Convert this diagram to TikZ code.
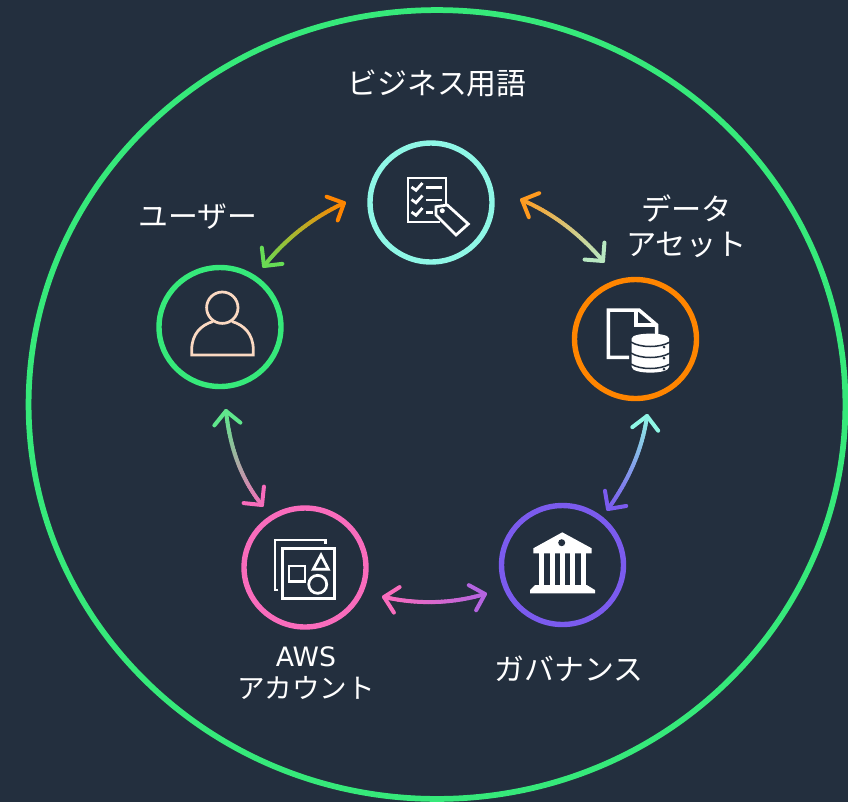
\documentclass[tikz,border=0pt]{standalone}
\usepackage{fontspec}
\setmainfont{Noto Sans CJK JP}
\newfontfamily\latinfont{DejaVu Sans}
\usepackage{xcolor}
\usetikzlibrary{calc,shapes.geometric}
\definecolor{bgcolor}{HTML}{232F3E}
\definecolor{ringgreen}{HTML}{36E97A}
\definecolor{ringcyan}{HTML}{8FF7E6}
\definecolor{ringorange}{HTML}{FF8500}
\definecolor{ringpurple}{HTML}{7B5BEE}
\definecolor{ringpink}{HTML}{F96CBC}
\definecolor{peach}{HTML}{FBD9C2}
\definecolor{tipgreen}{HTML}{66DD55}
\definecolor{tipamber}{HTML}{FF9A1E}
\definecolor{tippale}{HTML}{B8E8C2}
\definecolor{tipviolet}{HTML}{B464E0}
\definecolor{tipmint}{HTML}{5FE68C}
\tikzstyle{ring} = [ellipse, minimum width=2.44cm, minimum height=2.38cm, line width=0.108cm, inner sep=0pt]
\tikzstyle{caption} = [text=white, align=center, font=\fontsize{17}{19.5}\selectfont]
\tikzstyle{icon} = [white, line width=0.055cm, line join=miter]
\tikzstyle{link} = [line width=0.08cm, line cap=round, line join=round]
\newcommand{\gradlink}[5]{
    \draw [link, #4] ($(#1)!0.37cm!45:(#3)$) -- (#1) -- ($(#1)!0.37cm!-45:(#3)$);
    \draw [link, #5] ($(#2)!0.37cm!45:(#3)$) -- (#2) -- ($(#2)!0.37cm!-45:(#3)$);
    \foreach \i in {1,...,30} {
        \pgfmathsetmacro{\ta}{(\i-1)/30}
        \pgfmathsetmacro{\tb}{\i/30}
        \pgfmathsetmacro{\mixval}{100*(\i-0.5)/30}
        \draw [link, #5!\mixval!#4]
            ($($(#1)!\ta!(#3)$)!\ta!($(#3)!\ta!(#2)$)$) --
            ($($(#1)!\tb!(#3)$)!\tb!($(#3)!\tb!(#2)$)$);
    }
}
\begin{document}
\begin{tikzpicture}[x=0.02cm,y=-0.02cm]
    \fill [bgcolor] (0,0) rectangle (848,802);
    \useasboundingbox (0,0) rectangle (848,802);
    \node (domain) [ellipse, draw=ringgreen, line width=0.115cm, minimum width=16.34cm, minimum height=15.78cm, inner sep=0pt] at (437,404.5) {};
    \node (terms) [ring, draw=ringcyan] at (431,202.5) {};
    \node (assets) [ring, draw=ringorange] at (635.5,339) {};
    \node (governance) [ring, draw=ringpurple] at (562.5,565) {};
    \node (accounts) [ring, draw=ringpink] at (305,567.5) {};
    \node (users) [ring, draw=ringgreen] at (220,327) {};
    \node (termsLabel) [caption] at (437,83) {ビジネス用語};
    \node (usersLabel) [caption] at (198,217) {ユーザー};
    \node (assetsLabel) [caption, font=\fontsize{17.2}{20}\selectfont] at (686.5,226.5) {データ\\アセット};
    \node (governanceLabel) [caption] at (569,669) {ガバナンス};
    \node (accountsLabel) [caption, font=\fontsize{15.7}{18.3}\selectfont] at (306,673.5) {{\latinfont\fontsize{15.2}{18.3}\selectfont AWS}\\アカウント};
    \coordinate (usersOut) at (264,266);
    \coordinate (termsIn) at (344,203);
    \coordinate (usersBend) at (296,225.5);
    \coordinate (termsOut) at (522,200);
    \coordinate (assetsIn) at (603,261);
    \coordinate (termsBend) at (567.5,219.5);
    \coordinate (assetsOut) at (647,416);
    \coordinate (governanceIn) at (608,509);
    \coordinate (assetsBend) at (640.5,463.5);
    \coordinate (governanceOut) at (485,594);
    \coordinate (accountsIn) at (384,597);
    \coordinate (governanceBend) at (435.5,608.5);
    \coordinate (accountsOut) at (262,505);
    \coordinate (usersIn) at (226,411);
    \coordinate (accountsBend) at (232,468);
    \gradlink{usersOut}{termsIn}{usersBend}{tipgreen}{ringorange}
    \gradlink{termsOut}{assetsIn}{termsBend}{tipamber}{tippale}
    \gradlink{assetsOut}{governanceIn}{assetsBend}{ringcyan}{ringpurple}
    \gradlink{governanceOut}{accountsIn}{governanceBend}{tipviolet}{ringpink}
    \gradlink{accountsOut}{usersIn}{accountsBend}{ringpink}{tipmint}
    \draw [icon] (446,205) -- (446,178) -- (408,178) -- (408,222) -- (440,222);
    \foreach \y in {187,199.5,212} {
        \draw [icon] (411.5,\y) -- (416,\y+3.3) -- (422.5,\y-4);
    }
    \draw [icon] (426,187.3) -- (441.7,187.3);
    \draw [icon] (426,200) -- (441.7,200);
    \draw [icon] (426,212.3) -- (433,212.3);
    \draw [icon] (436,206.7) -- (447.3,205) -- (468.3,224) -- (456,235) -- (436,215) -- cycle;
    \fill [white] (442.3,210.7) circle (0.05cm);
    \draw [icon, line width=0.07cm] (629,357.3) -- (608.3,357.3) -- (608.3,310) -- (639,310) -- (656.7,325) -- (656.7,335);
    \draw [icon, line width=0.07cm] (636,310.5) -- (636,325) -- (656.7,325);
    \fill [white] (631.7,338.5) .. controls (631.7,332) and (669,332) .. (669,338.5) -- (669,367) .. controls (669,374.5) and (631.7,374.5) .. (631.7,367) -- cycle;
    \foreach \y in {345,356,367} {
        \draw [bgcolor, line width=0.03cm] (631,\y-3) .. controls (640,\y+3) and (660,\y+3) .. (670,\y-3);
    }
    \foreach \y in {347,358,369} {
        \fill [bgcolor] (664,\y) circle (0.03cm);
    }
    \fill [white] (562.3,532.3) -- (591.7,548.3) -- (591.7,553.3) -- (533.3,553.3) -- (533.3,548.3) -- cycle;
    \fill [bgcolor] (561.7,542.7) circle (0.07cm);
    \foreach \x in {539.3,550,560,570.3,580.7} {
        \fill [white] (\x,553) rectangle (\x+5,586);
    }
    \fill [white] (535,585) -- (586.7,585) -- (595,590) -- (595,593.3) -- (530,593.3) -- (530,590) -- cycle;
    \draw [icon] (278.3,590) -- (275,590) -- (275,540) -- (325.7,540) -- (325.7,544);
    \draw [icon] (282.7,548.3) rectangle (334.3,598.3);
    \draw [icon] (289,566) rectangle (305,581.7);
    \draw [icon] (321,555) -- (328.3,569.3) -- (313.3,569.3) -- cycle;
    \draw [icon] (317.7,584.3) circle (0.18cm);
    \draw [peach, line width=0.055cm] (222.3,307.7) circle (0.314cm);
    \draw [peach, line width=0.055cm] (213,321.5) .. controls (201,325) and (191.7,334) .. (191.7,350) -- (191.7,355) -- (253.3,355) -- (253.3,350) .. controls (253.3,334) and (244,325) .. (232,321.5);
\end{tikzpicture}
\end{document}
